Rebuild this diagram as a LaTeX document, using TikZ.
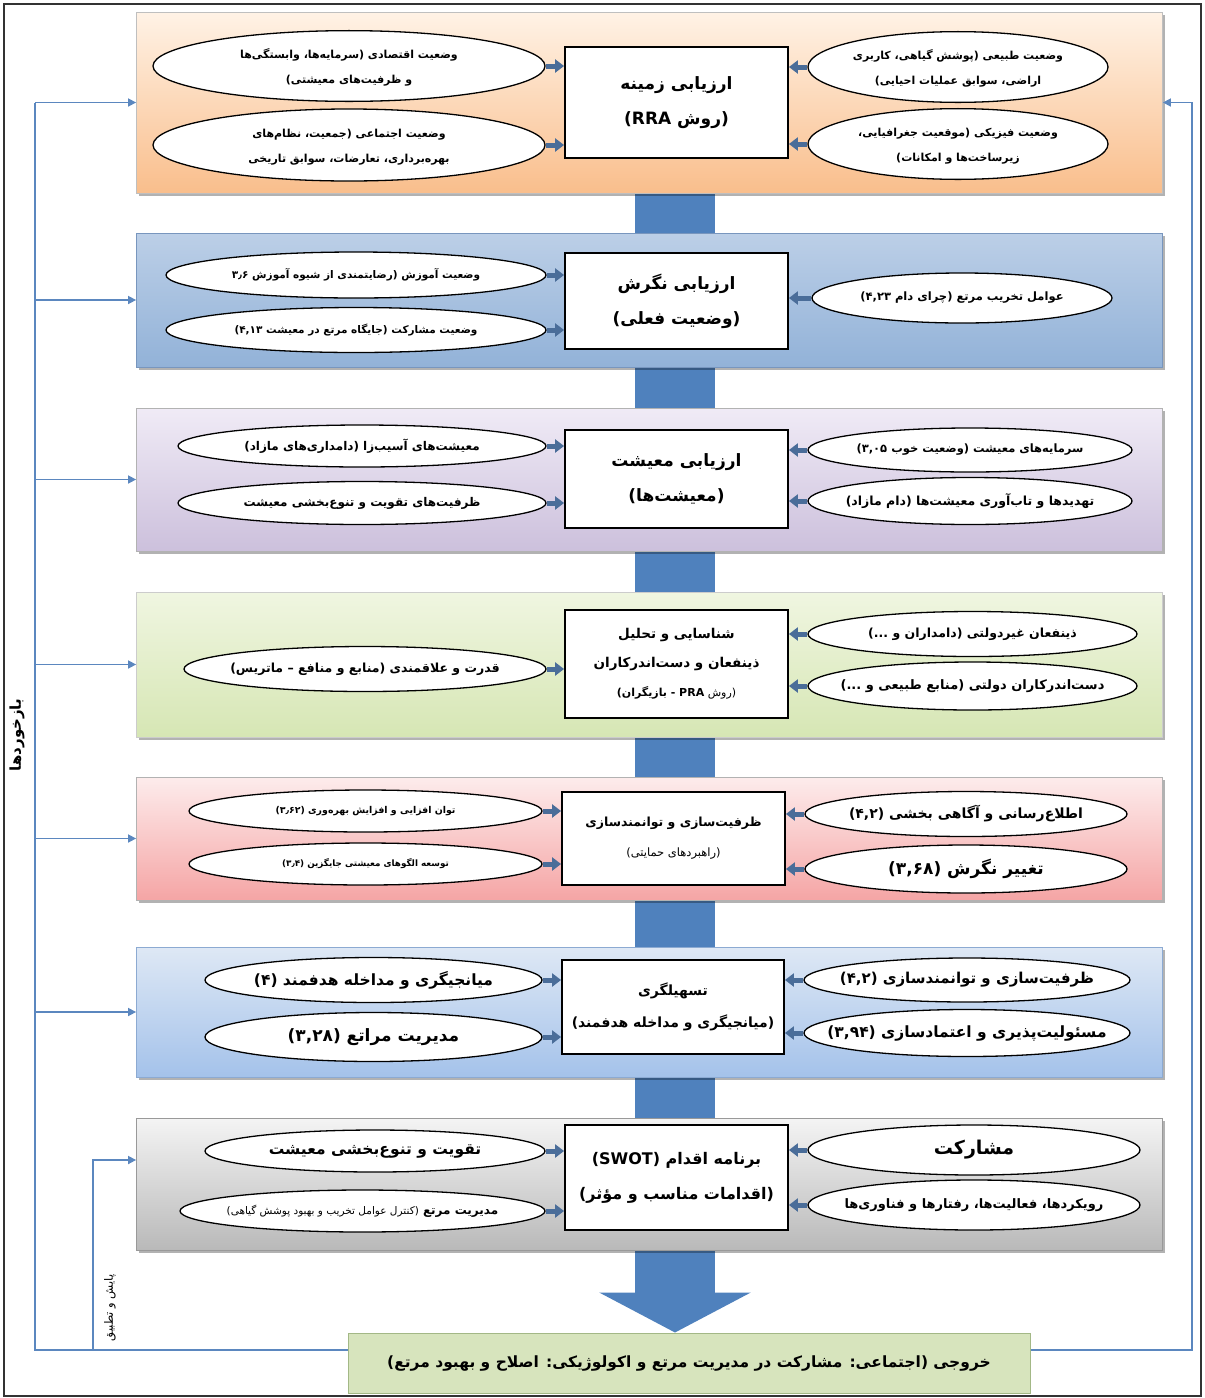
\documentclass[tikz,border=0pt]{standalone}
\usepackage{fontspec}
\setmainfont{DejaVu Sans}
\newfontfamily\fa[Script=Arabic]{DejaVu Sans}
\TeXXeTstate=1
\usetikzlibrary{shapes.geometric,arrows.meta,shadows,calc}
\definecolor{barc}{HTML}{4F81BD}
\definecolor{arrc}{HTML}{4A6D99}
\definecolor{fbc}{HTML}{5B87BF}
\definecolor{outf}{HTML}{D7E4BD}
\definecolor{outb}{HTML}{A3B886}
\newcommand{\RL}[1]{\beginR #1\endR}
\newcommand{\LR}[1]{\beginL #1\endL}
\newcommand{\eltwo}[2]{\makebox[0pt]{\begin{tabular}{@{}c@{}}\RL{#1}\\\RL{#2}\end{tabular}}}
\newcommand{\elone}[1]{\makebox[0pt]{\RL{#1}}}
\tikzset{
 panel/.style={rectangle, inner sep=0pt, minimum width=1026pt, line width=0.8pt,
   drop shadow={shadow xshift=2pt,shadow yshift=-2.5pt,opacity=0.3,fill=black}},
 cbox/.style={rectangle, draw=black, line width=1.8pt, fill=white, inner sep=0pt, align=center,
   minimum width=223pt, font=\fa\bfseries\fontsize{17}{35}\selectfont},
 ell/.style={ellipse, draw=black, line width=1.3pt, fill=white, inner sep=0pt},
 ef/.style={font=\fa\bfseries\fontsize{#1}{25}\selectfont},
 sarrow/.style={draw=arrc, line width=5pt, -{Triangle[width=13pt,length=9pt]}},
 fbline/.style={draw=fbc, line width=1.6pt},
 fbarrow/.style={fbline, -{Triangle[width=8pt,length=8pt]}},
}
\begin{document}
\begin{tikzpicture}[x=1pt,y=-1pt]
\useasboundingbox (0,0) rectangle (1205,1398);
\fill[white] (0,0) rectangle (1205,1398);
\draw[black!80, line width=1.2pt] (4,4) rectangle (1201,1396);

% output
\node[rectangle, draw=outb, fill=outf, line width=1pt, minimum width=682pt, minimum height=60pt,
  font=\fa\bfseries\fontsize{15.5}{20}\selectfont] (out) at (689,1363)
  {\RL{خروجی (اجتماعی: مشارکت در مدیریت مرتع و اکولوژیکی: اصلاح و بهبود مرتع)}};

% central bar
\coordinate (bt) at (675,190);
\draw[draw=barc, line width=80pt, -{Triangle[width=150pt,length=40pt]}] (bt) -- (bt |- out.north);

% panels
\node[panel, draw=black!25, top color=orange!10, bottom color={rgb,255:red,249;green,190;blue,140}, minimum height=181pt] (p1) at (649.5,102.5) {};
\node[panel, draw={rgb,255:red,120;green,150;blue,190}, top color={rgb,255:red,188;green,207;blue,231}, bottom color={rgb,255:red,146;green,178;blue,216}, minimum height=134pt] (p2) at (649.5,300) {};
\node[panel, draw=black!30, top color={rgb,255:red,240;green,235;blue,246}, bottom color={rgb,255:red,204;green,192;blue,220}, minimum height=143pt] (p3) at (649.5,479.5) {};
\node[panel, draw=black!20, top color={rgb,255:red,240;green,246;blue,225}, bottom color={rgb,255:red,214;green,230;blue,180}, minimum height=145pt] (p4) at (649.5,664.5) {};
\node[panel, draw=black!30, top color={rgb,255:red,253;green,236;blue,236}, bottom color={rgb,255:red,245;green,165;blue,165}, minimum height=123pt] (p5) at (649.5,838.5) {};
\node[panel, draw={rgb,255:red,140;green,170;blue,210}, top color={rgb,255:red,222;green,232;blue,245}, bottom color={rgb,255:red,164;green,194;blue,234}, minimum height=130pt] (p6) at (649.5,1012) {};
\node[panel, draw=black!40, top color={rgb,255:red,244;green,244;blue,244}, bottom color={rgb,255:red,185;green,185;blue,185}, minimum height=132pt] (p7) at (649.5,1184) {};

% center boxes
\node[cbox, minimum height=111pt] (b1) at (676.5,102.5) {\RL{ارزیابی زمینه}\\\RL{(روش \LR{RRA})}};
\node[cbox, minimum height=96pt] (b2) at (676.5,301) {\RL{ارزیابی نگرش}\\\RL{(وضعیت فعلی)}};
\node[cbox, minimum height=98pt] (b3) at (676.5,479) {\RL{ارزیابی معیشت}\\\RL{(معیشت^^^^200cها)}};
\node[cbox, minimum height=108pt, font=\fa\bfseries\fontsize{13.5}{29}\selectfont] (b4) at (676.5,664) {\RL{شناسایی و تحلیل}\\\RL{ذینفعان و دست^^^^200cاندرکاران}\\{\mdseries\fontsize{11}{22}\selectfont\RL{(روش \LR{\bfseries PRA} - بازیگران)}}};
\node[cbox, minimum height=93pt, font=\fa\bfseries\fontsize{12.5}{30}\selectfont] (b5) at (673.5,838.5) {\RL{ظرفیت^^^^200cسازی و توانمندسازی}\\{\mdseries\fontsize{11.5}{30}\selectfont\RL{(راهبردهای حمایتی)}}};
\node[cbox, minimum height=94pt, minimum width=222pt, font=\fa\bfseries\fontsize{14}{32}\selectfont] (b6) at (673,1007) {\RL{تسهیلگری}\\\RL{(میانجیگری و مداخله هدفمند)}};
\node[cbox, minimum height=105pt, font=\fa\bfseries\fontsize{16}{35}\selectfont] (b7) at (676.5,1177.5) {\RL{برنامه اقدام \LR{(SWOT)}}\\\RL{(اقدامات مناسب و مؤثر)}};

% panel 1 ellipses
\node[ell, ef=11, minimum width=392pt, minimum height=62pt] (a1) at (349,66) {\eltwo{وضعیت اقتصادی (سرمایه^^^^200cها، وابستگی^^^^200cها}{و ظرفیت^^^^200cهای معیشتی)}};
\node[ell, ef=11, minimum width=392pt, minimum height=72pt] (a2) at (349,145) {\eltwo{وضعیت اجتماعی (جمعیت، نظام^^^^200cهای}{بهره^^^^200cبرداری، تعارضات، سوابق تاریخی}};
\node[ell, ef=11, minimum width=300pt, minimum height=60pt] (c1) at (958,67) {\eltwo{وضعیت طبیعی (پوشش گیاهی، کاربری}{اراضی، سوابق عملیات احیایی)}};
\node[ell, ef=11, minimum width=300pt, minimum height=70pt] (c2) at (958,144) {\eltwo{وضعیت فیزیکی (موقعیت جغرافیایی،}{زیرساخت^^^^200cها و امکانات)}};
% panel 2
\node[ell, ef=10.5, minimum width=380pt, minimum height=46pt] (a3) at (356,275) {\elone{وضعیت آموزش (رضایتمندی از شیوه آموزش ۳٫۶}};
\node[ell, ef=10.5, minimum width=380pt, minimum height=45pt] (a4) at (356,330) {\elone{وضعیت مشارکت (جایگاه مرتع در معیشت ۴,۱۳)}};
\node[ell, ef=11.5, minimum width=300pt, minimum height=50pt] (c3) at (962,298) {\elone{عوامل تخریب مرتع (چرای دام ۴,۲۳)}};
% panel 3
\node[ell, ef=12, minimum width=368pt, minimum height=42pt] (a5) at (362,446) {\elone{معیشت^^^^200cهای آسیب^^^^200cزا (دامداری^^^^200cهای مازاد)}};
\node[ell, ef=12, minimum width=368pt, minimum height=43pt] (a6) at (362,503) {\elone{ظرفیت^^^^200cهای تقویت و تنوع^^^^200cبخشی معیشت}};
\node[ell, ef=11.5, minimum width=324pt, minimum height=44pt] (c5) at (970,450) {\elone{سرمایه^^^^200cهای معیشت (وضعیت خوب ۳,۰۵)}};
\node[ell, ef=12.5, minimum width=324pt, minimum height=47pt] (c6) at (970,501) {\elone{تهدیدها و تاب^^^^200cآوری معیشت^^^^200cها (دام مازاد)}};
% panel 4
\node[ell, ef=12.5, minimum width=362pt, minimum height=45pt] (a7) at (365,669) {\elone{قدرت و علاقمندی (منابع و منافع – ماتریس)}};
\node[ell, ef=12.5, minimum width=329pt, minimum height=45pt] (c7) at (972.5,634) {\elone{ذینفعان غیردولتی (دامداران و ...)}};
\node[ell, ef=13, minimum width=329pt, minimum height=48pt] (c8) at (972.5,686) {\elone{دست^^^^200cاندرکاران دولتی (منابع طبیعی و ...)}};
% panel 5
\node[ell, ef=9.4, minimum width=353pt, minimum height=42pt] (a8) at (365.5,811) {\elone{توان افزایی و افزایش بهره^^^^200cوری (۳٫۶۲)}};
\node[ell, ef=8.8, minimum width=353pt, minimum height=42pt] (a9) at (365.5,864) {\elone{توسعه الگوهای معیشتی جایگزین (۳٫۴)}};
\node[ell, ef=14, minimum width=322pt, minimum height=45pt] (c9) at (966,814) {\elone{اطلاع^^^^200cرسانی و آگاهی بخشی (۴,۲)}};
\node[ell, ef=17, minimum width=322pt, minimum height=48pt] (c10) at (966,869) {\elone{تغییر نگرش (۳,۶۸)}};
% panel 6
\node[ell, ef=15.5, minimum width=337pt, minimum height=45pt] (a10) at (373.5,980) {\elone{میانجیگری و مداخله هدفمند (۴)}};
\node[ell, ef=17, minimum width=337pt, minimum height=49pt] (a11) at (373.5,1037) {\elone{مدیریت مراتع (۳,۲۸)}};
\node[ell, ef=15, minimum width=326pt, minimum height=44pt] (c11) at (967,980) {\elone{ظرفیت^^^^200cسازی و توانمندسازی (۴,۲)}};
\node[ell, ef=15.5, minimum width=326pt, minimum height=47pt] (c12) at (967,1033) {\elone{مسئولیت^^^^200cپذیری و اعتمادسازی (۳,۹۴)}};
% panel 7
\node[ell, ef=15.5, minimum width=340pt, minimum height=42pt] (a12) at (375,1151) {\elone{تقویت و تنوع^^^^200cبخشی معیشت}};
\node[ell, ef=12, minimum width=365pt, minimum height=42pt] (a13) at (362.5,1211) {\elone{مدیریت مرتع {\mdseries\fontsize{10.5}{10}\selectfont(کنترل عوامل تخریب و بهبود پوشش گیاهی)}}};
\node[ell, ef=19, minimum width=332pt, minimum height=50pt] (c13) at (974,1150) {\elone{مشارکت}};
\node[ell, ef=13, minimum width=332pt, minimum height=50pt] (c14) at (974,1205) {\elone{رویکردها، فعالیت^^^^200cها، رفتارها و فناوری^^^^200cها}};

% ellipse arrows
\foreach \e/\b in {a1/b1,a2/b1,a3/b2,a4/b2,a5/b3,a6/b3,a7/b4,a8/b5,a9/b5,a10/b6,a11/b6,a12/b7,a13/b7}
  \draw[sarrow] (\e.east) -- (\e.east -| \b.west);
\foreach \e/\b in {c1/b1,c2/b1,c3/b2,c5/b3,c6/b3,c7/b4,c8/b4,c9/b5,c10/b5,c11/b6,c12/b6,c13/b7,c14/b7}
  \draw[sarrow] (\e.west) -- (\e.west -| \b.east);

% feedback
\coordinate (lx) at (35,0);
\coordinate (mx) at (93,0);
\coordinate (rx) at (1192,0);
\coordinate (ol) at ($(out.west)+(0,-13)$);
\coordinate (or) at ($(out.east)+(0,-13)$);
\draw[fbline] (ol) -| (lx |- p1.west);
\foreach \p in {p1,p2,p3,p4,p5,p6}
  \draw[fbarrow] (lx |- \p.west) -- (\p.west);
\coordinate (m7) at (93,1160);
\draw[fbarrow] (mx |- ol) -- (m7) -- (m7 -| p7.west);
\draw[fbarrow] (or) -| (rx |- p1.east) -- (p1.east);

\node[rotate=90, font=\fa\bfseries\fontsize{15}{17}\selectfont] (lbl1) at (17,735) {\RL{بازخوردها}};
\node[rotate=90, font=\fa\fontsize{11.5}{13}\selectfont] (lbl2) at (110,1308) {\RL{پایش و تطبیق}};
\end{tikzpicture}
\end{document}
